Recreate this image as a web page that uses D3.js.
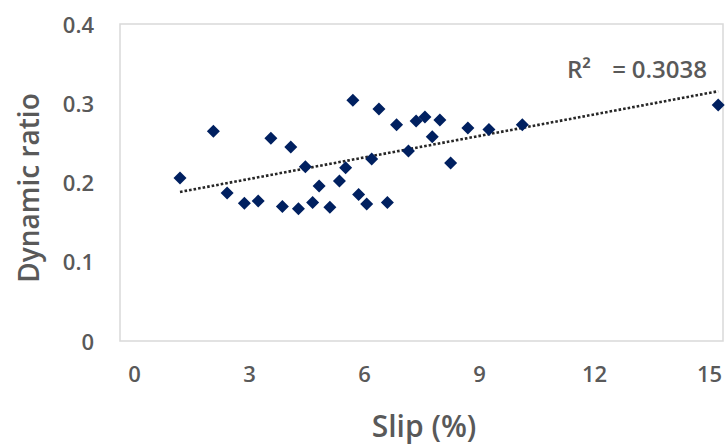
<!DOCTYPE html>
<html>
<head>
<meta charset="utf-8">
<script src="https://cdn.jsdelivr.net/npm/d3@7"></script>
<style>
  html, body { margin: 0; padding: 0; background: #fff; }
  svg { display: block; }
  text { font-family: "Open Sans", "Noto Sans", sans-serif; fill: #595959; }
</style>
</head>
<body>
<svg id="chart" width="726" height="447"></svg>
<script>
// Slip (%) of each test run
const slip = [1.20, 2.07, 2.43, 2.88, 3.24, 3.57, 3.87, 4.09, 4.29, 4.47, 4.66,
              4.83, 5.11, 5.36, 5.52, 5.71, 5.86, 6.07, 6.20, 6.39, 6.61, 6.85,
              7.16, 7.36, 7.59, 7.78, 7.98, 8.26, 8.71, 9.26, 10.13, 15.24];
// Dynamic ratio measured for each run
const dynamicRatio = [0.207, 0.266, 0.188, 0.175, 0.178, 0.257, 0.171, 0.246, 0.168, 0.221, 0.176,
                      0.197, 0.170, 0.203, 0.220, 0.305, 0.186, 0.174, 0.231, 0.294, 0.176, 0.274,
                      0.241, 0.279, 0.284, 0.259, 0.280, 0.226, 0.270, 0.268, 0.274, 0.299];
// Linear trend line (dynamic ratio = intercept + slope * slip)
const trendSlope = 0.00905;
const trendIntercept = 0.1785;
const r2Parts = ["R\u00B2", "=", "0.3038"];

const xTicks = [0, 3, 6, 9, 12, 15];
const yTicks = [0, 0.1, 0.2, 0.3, 0.4];
const yTickLabels = ["0", "0.1", "0.2", "0.3", "0.4"];

const svg = d3.select("#chart");

const x = d3.scaleLinear().domain([0, 15]).range([134, 709]);
const y = d3.scaleLinear().domain([0, 0.4]).range([342, 25]);

// plot-area frame
const frame = { left: 120, right: 723, top: 24, bottom: 341 };
svg.append("rect")
  .attr("x", frame.left).attr("y", frame.top)
  .attr("width", frame.right - frame.left)
  .attr("height", frame.bottom - frame.top)
  .attr("fill", "#fff")
  .attr("stroke", "#d9d9d9")
  .attr("stroke-width", 1.5);

const styleTicks = sel => sel
  .attr("font-size", 22).attr("font-weight", 600)
  .attr("font-family", "Open Sans, Noto Sans, sans-serif")
  .attr("fill", "#595959");

// y axis labels
const yAxis = d3.axisLeft(y).tickValues(yTicks)
  .tickFormat((d, i) => yTickLabels[i]).tickSize(0).tickPadding(0);
svg.append("g").attr("transform", "translate(94,0)").call(yAxis)
  .call(g => g.select(".domain").remove())
  .selectAll("text").call(styleTicks);

// x axis labels
const xAxis = d3.axisBottom(x).tickValues(xTicks).tickSize(0).tickPadding(0);
svg.append("g").attr("transform", "translate(0,366)").call(xAxis)
  .call(g => g.select(".domain").remove())
  .selectAll("text").call(styleTicks);

// axis titles
svg.append("text")
  .attr("x", 424).attr("y", 437)
  .attr("text-anchor", "middle")
  .attr("font-size", 30).attr("font-weight", 600)
  .text("Slip (%)");

svg.append("text")
  .attr("transform", "translate(39,188) rotate(-90)")
  .attr("text-anchor", "middle")
  .attr("font-size", 28).attr("font-weight", 600)
  .text("Dynamic ratio");

// dotted linear trend line over the slip range
const [x0, x1] = d3.extent(slip);
svg.append("line")
  .attr("x1", x(x0)).attr("y1", y(trendIntercept + trendSlope * x0))
  .attr("x2", x(x1)).attr("y2", y(trendIntercept + trendSlope * x1))
  .attr("stroke", "#262626")
  .attr("stroke-width", 2.6)
  .attr("stroke-dasharray", "2.6,2");

// diamond markers
const r = 6.5;
svg.append("g").selectAll("path")
  .data(slip.map((s, i) => [s, dynamicRatio[i]]))
  .join("path")
  .attr("transform", d => `translate(${x(d[0])},${y(d[1])})`)
  .attr("d", `M0,${-r}L${r},0L0,${r}L${-r},0Z`)
  .attr("fill", "#002060");

// trend line R² label
const r2 = svg.append("text")
  .attr("y", 78)
  .attr("font-size", 24).attr("font-weight", 600);
r2.append("tspan").attr("x", 567).attr("text-anchor", "start").text(r2Parts[0]);
r2.append("tspan").attr("x", 619).attr("text-anchor", "middle").text(r2Parts[1]);
r2.append("tspan").attr("x", 707).attr("text-anchor", "end").text(r2Parts[2]);
</script>
</body>
</html>
